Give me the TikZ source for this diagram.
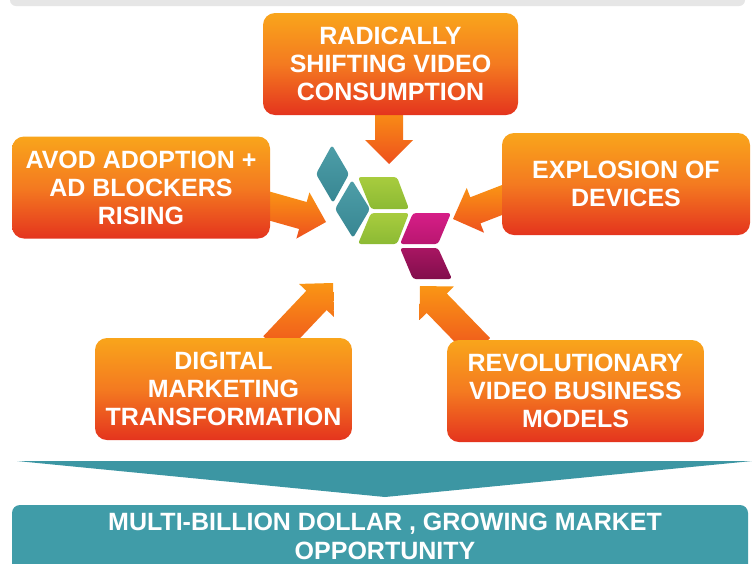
\documentclass[tikz,border=0pt]{standalone}
\usepackage{fontspec}
\setmainfont{Liberation Sans}
\usetikzlibrary{calc}
\pgfdeclarelayer{bg}
\pgfsetlayers{bg,main}
\definecolor{boxtop}{RGB}{249,165,27}
\definecolor{boxmid}{RGB}{244,122,32}
\definecolor{boxbot}{RGB}{228,52,30}
\definecolor{arrlight}{RGB}{250,150,20}
\definecolor{arrdark}{RGB}{238,80,30}
\definecolor{tealc}{RGB}{64,156,168}
\definecolor{tealchev}{RGB}{60,150,163}
\definecolor{barbg}{RGB}{230,230,230}
\definecolor{logoteal}{RGB}{78,158,168}
\definecolor{logotealdk}{RGB}{55,134,146}
\definecolor{logogreen}{RGB}{168,204,62}
\definecolor{logogreendk}{RGB}{140,186,52}
\definecolor{logomag}{RGB}{214,30,135}
\definecolor{logomagdk}{RGB}{185,22,112}
\definecolor{logopur}{RGB}{168,22,98}
\definecolor{logopurdk}{RGB}{130,14,76}
\tikzset{
  factor/.style={rounded corners=12pt, top color=boxtop, bottom color=boxbot,
    middle color=boxmid, minimum height=102pt, inner sep=0pt, text=white,
    align=center, font=\bfseries\fontsize{25}{28}\selectfont},
  arrowfill/.style={top color=arrlight, bottom color=arrdark},
  logopiece/.style={rounded corners=3pt},
  bandtext/.style={text=white, align=center, inner sep=0pt,
    font=\bfseries\fontsize{25}{29}\selectfont}
}
\newcommand\fatarrow[3][]{%
  \coordinate (fah) at ($(#3)!24pt!(#2)$);
  \shade[arrowfill,#1] ($(#2)!14pt!90:(#3)$) -- ($(fah)!14pt!90:(#3)$)
    -- ($(fah)!24pt!90:(#3)$) -- (#3) -- ($(fah)!24pt!-90:(#3)$)
    -- ($(fah)!14pt!-90:(#3)$) -- ($(#2)!14pt!-90:(#3)$) -- cycle;
}
\begin{document}
\begin{tikzpicture}[x=1pt,y=-1pt]
\useasboundingbox (0,0) rectangle (752,563);
\clip (0,0) rectangle (752,563);
\begin{pgfonlayer}{bg}
\fill[white] (0,0) rectangle (752,563);
\end{pgfonlayer}
% top grey band
\fill[barbg, rounded corners=6pt] (10,-12) rectangle (745,6);
% factor boxes
\node[factor, minimum width=255pt] (top) at (390.5,64) {RADICALLY\\SHIFTING VIDEO\\CONSUMPTION};
\node[factor, minimum width=258pt] (avod) at (141,187.5) {AVOD ADOPTION +\\AD BLOCKERS\\RISING};
\node[factor, minimum width=248pt] (expl) at (626,184) {EXPLOSION OF\\DEVICES};
\node[factor, minimum width=257pt] (dmt) at (223.5,389) {DIGITAL\\MARKETING\\TRANSFORMATION};
\node[factor, minimum width=257pt] (rev) at (575.5,391) {REVOLUTIONARY\\VIDEO BUSINESS\\MODELS};
% arrow ends
\coordinate (sT) at ($(top.south)+(-1.5,-10)$);
\coordinate (tipT) at (389,164);
\coordinate (sL) at ($(avod.east)+(-8,16.5)$);
\coordinate (tipL) at (326,222);
\coordinate (sR) at ($(expl.west)+(8,13)$);
\coordinate (tipR) at (453,219);
\coordinate (sBL) at ($(dmt.north)+(50,8)$);
\coordinate (tipBL) at (333,283);
\coordinate (sBR) at ($(rev.north)+(-95.5,8)$);
\coordinate (tipBR) at (420,286);
\begin{pgfonlayer}{bg}
\fatarrow{sT}{tipT}
\fatarrow{sL}{tipL}
\fatarrow{sR}{tipR}
\fatarrow[top color=arrlight, bottom color=arrdark]{sBL}{tipBL}
\fatarrow{sBR}{tipBR}
\end{pgfonlayer}
% central logo
\shade[logopiece, top color=logoteal, bottom color=logotealdk] (332,145) -- (349,174) -- (333,203) -- (316,174) -- cycle;
\shade[logopiece, top color=logoteal, bottom color=logotealdk] (352,180) -- (370,209) -- (353,238) -- (335,209) -- cycle;
\shade[logopiece, top color=logogreen, bottom color=logogreendk] (358,177) -- (397,177) -- (409,209) -- (371,209) -- cycle;
\shade[logopiece, top color=logogreen, bottom color=logogreendk] (371,213) -- (409,213) -- (397,244) -- (358,244) -- cycle;
\shade[logopiece, top color=logomag, bottom color=logomagdk] (413,213) -- (451,213) -- (438,244) -- (400,244) -- cycle;
\shade[logopiece, top color=logopur, bottom color=logopurdk] (400,248) -- (438,248) -- (452,279) -- (413,279) -- cycle;
% bottom chevron and band
\fill[tealchev] (17,461) -- (752,461) -- (385,497) -- cycle;
\fill[tealc, rounded corners=8pt] (12,505) rectangle (748,580);
\node[bandtext] (mkt) at (385,536) {MULTI-BILLION DOLLAR , GROWING MARKET\\OPPORTUNITY};
\end{tikzpicture}
\end{document}
